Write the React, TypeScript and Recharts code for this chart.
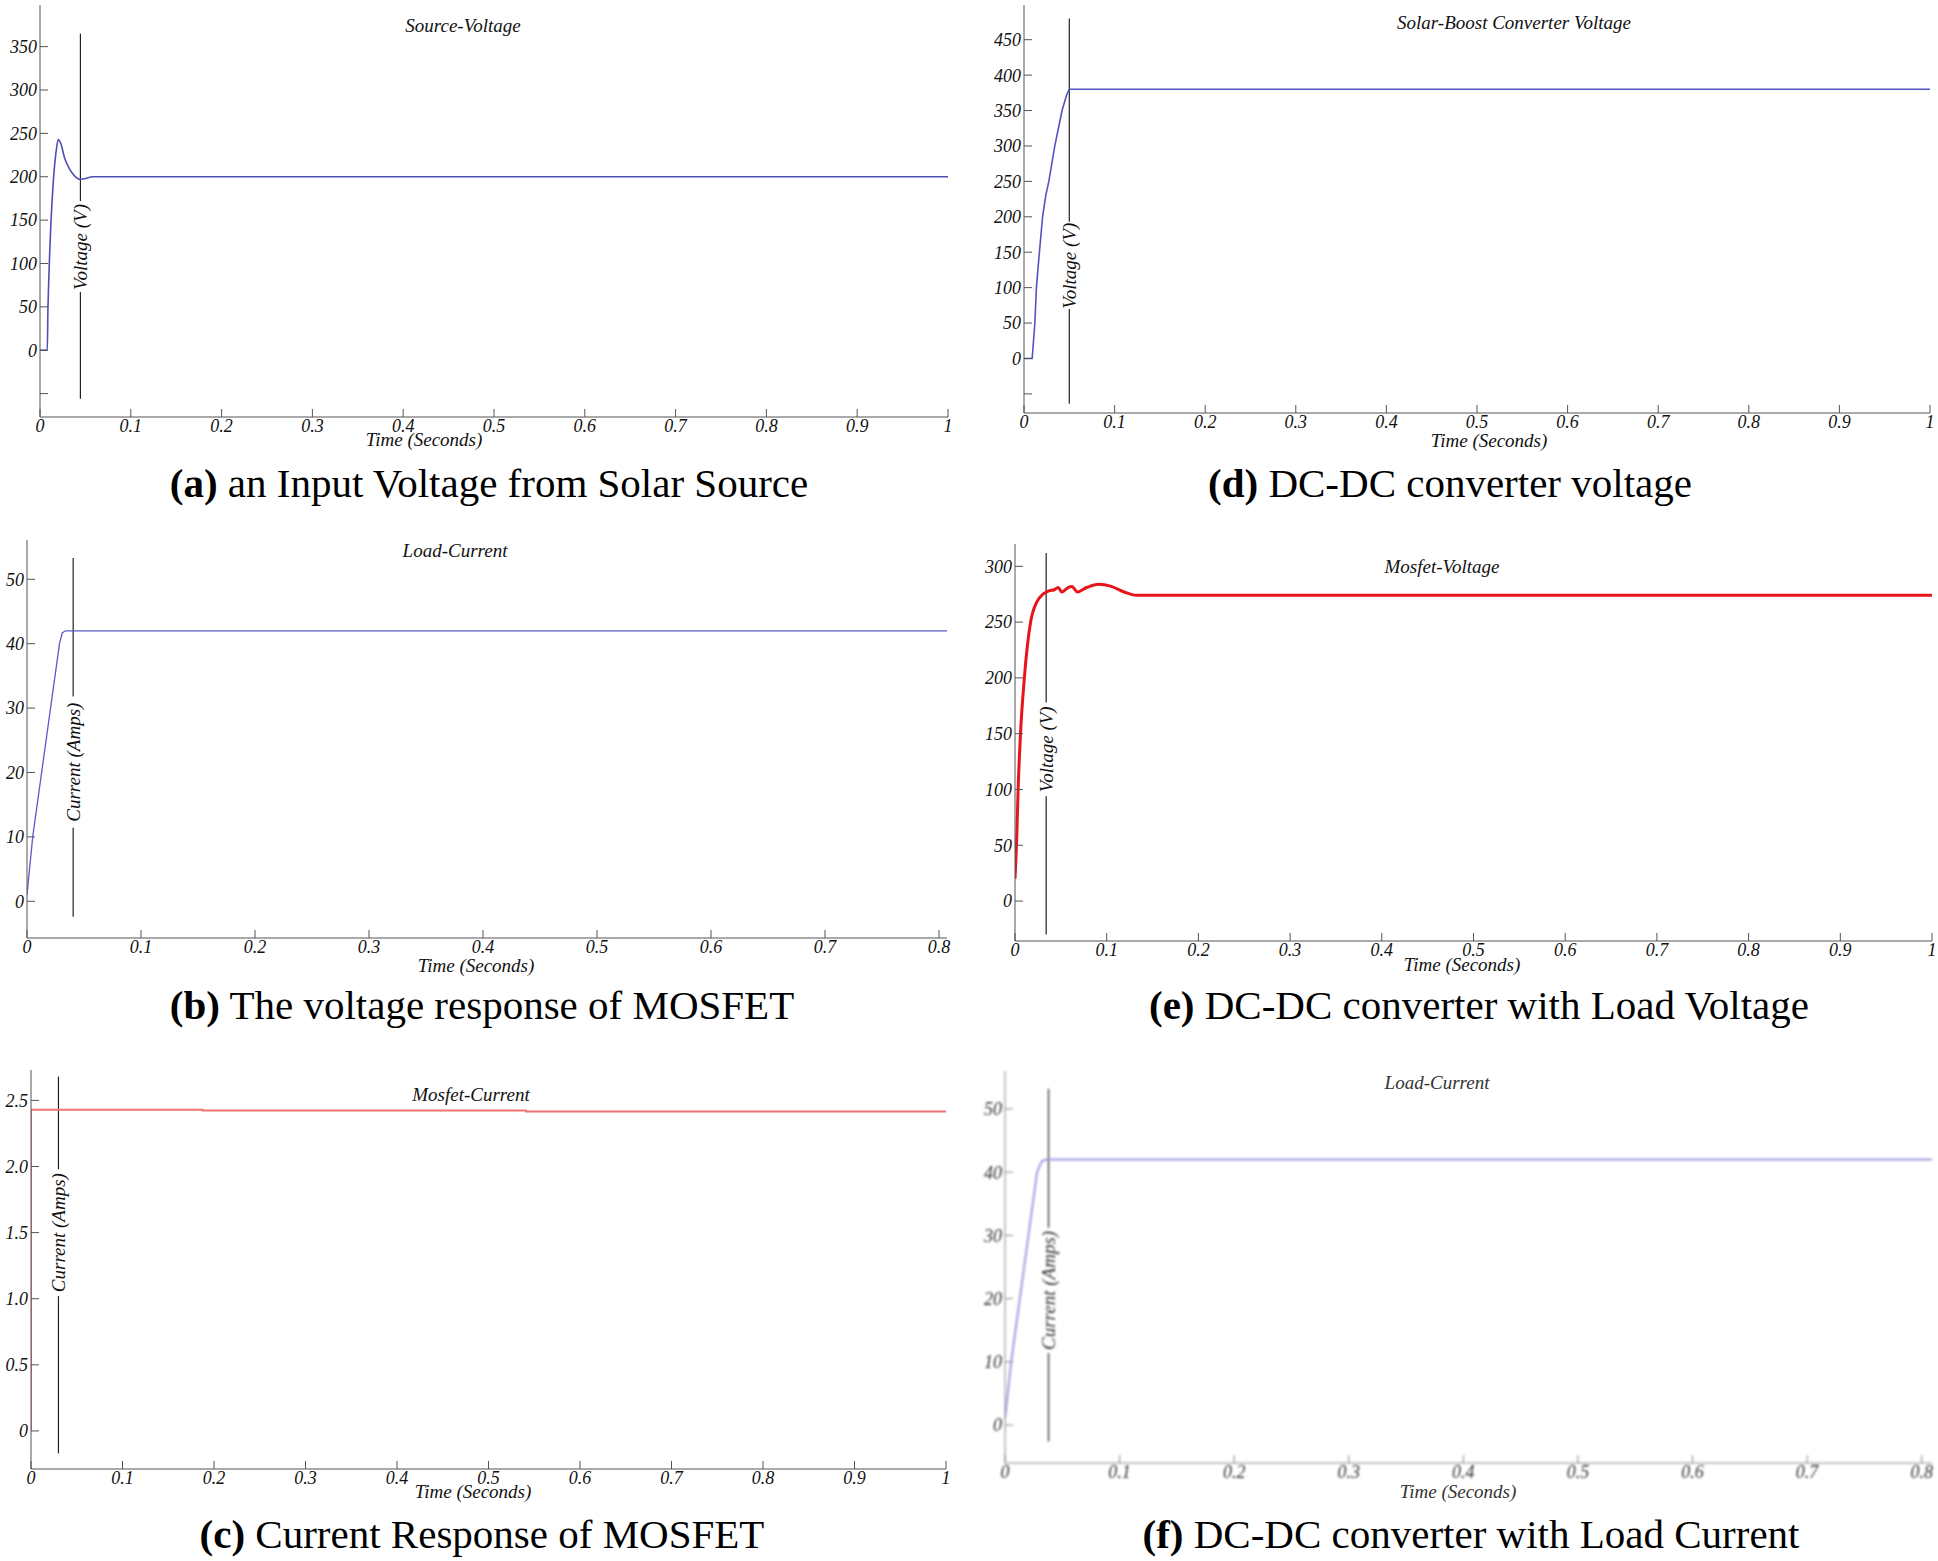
import React from 'react';
import { LineChart, Line, XAxis, YAxis, ReferenceLine } from 'recharts';

// time ticks
const ticksFull = [0, 0.1, 0.2, 0.3, 0.4, 0.5, 0.6, 0.7, 0.8, 0.9, 1];
const ticksShort = [0, 0.1, 0.2, 0.3, 0.4, 0.5, 0.6, 0.7, 0.8];

// (a) source voltage
const srcTime = [0, 0.008, 0.0088, 0.0185, 0.0202, 0.023, 0.027, 0.032, 0.038, 0.044, 0.05, 0.058, 1];
const srcVolts = [0, 0, 50, 235, 243, 238, 222, 210, 201, 197, 198, 200, 200];

// (d) boost converter voltage
const boostTime = [0, 0.009, 0.012, 0.0137, 0.017, 0.0205, 0.024, 0.0274, 0.034, 0.042, 0.047, 0.05, 1];
const boostVolts = [0, 0, 50, 100, 150, 200, 230, 250, 300, 350, 372, 380, 380];

// (b) load current
const loadTime = [0, 0.005, 0.0285, 0.031, 0.034, 0.807];
const loadAmps = [1, 10, 40, 41.7, 42, 42];

// (e) mosfet voltage
const mosVTime = [0, 0.002, 0.0034, 0.006, 0.0102, 0.017, 0.0237, 0.0305, 0.037, 0.043, 0.047, 0.051, 0.058, 0.062, 0.068, 0.078, 0.0915, 0.105, 0.119, 0.132, 1];
const mosVolts = [20, 60, 100, 150, 200, 250, 268, 275, 278, 279, 281, 277, 281, 282, 277, 281, 284, 282, 277, 274, 274];

// (c) mosfet current
const mosITime = [0, 0, 0.1875, 0.1875, 0.541, 0.541, 1];
const mosAmps = [0, 2.43, 2.43, 2.424, 2.424, 2.416, 2.416];

// (f) load current (second run)
const load2Time = [0, 0.0054, 0.028, 0.032, 0.036, 0.809];
const load2Amps = [1, 10, 40, 41.7, 42, 42];

const rows = (ts: number[], vs: number[]) => ts.map((t, i) => ({ t, v: vs[i] }));

const YW = 60;
const XH = 40;
const RM = 14;
const serif = 'Liberation Serif, Times New Roman, serif';

type Frame = { l: number; t: number; r: number; b: number };
type Marker = { x: number; top: number; hi: number; lo: number; bottom: number; mid: number };

interface PanelProps {
  frame: Frame;
  xDomain: [number, number];
  xTicks: number[];
  yDomain: [number, number];
  yTicks: number[];
  yFmt: (v: number) => string;
  data: { t: number; v: number }[];
  color: string;
  strokeWidth: number;
  curve: 'linear' | 'monotoneX';
  title: string;
  titlePos: [number, number];
  xLabelPos: [number, number];
  yLabel: string;
  marker: Marker;
  letter: string;
  caption: string;
  captionPos: [number, number];
  blur?: boolean;
}

const textAt = (pos: [number, number], style: React.CSSProperties, children: React.ReactNode) => (
  <div
    style={{
      position: 'absolute',
      left: pos[0],
      top: pos[1],
      transform: 'translate(-50%, -50%)',
      whiteSpace: 'nowrap',
      lineHeight: 1,
      ...style,
    }}
  >
    {children}
  </div>
);

const Panel: React.FC<PanelProps> = (p) => {
  const w = p.frame.r - p.frame.l;
  const h = p.frame.b - p.frame.t;
  const m = p.marker;
  const frameColor = p.blur ? '#8a8a8a' : '#555';
  const ink = p.blur ? '#333' : '#111';
  const tickFont = { fontFamily: serif, fontStyle: 'italic', fontSize: 18, fill: ink };
  const italic = { fontFamily: serif, fontStyle: 'italic', fontSize: 19, color: ink };
  return (
    <>
      <div
        style={{
          position: 'absolute',
          left: p.frame.l - YW,
          top: p.frame.t,
          filter: p.blur ? 'blur(0.8px)' : undefined,
        }}
      >
        <LineChart width={w + YW + RM} height={h + XH} data={p.data} margin={{ top: 0, right: RM, bottom: 0, left: 0 }}>
          <XAxis
            dataKey="t"
            type="number"
            domain={p.xDomain}
            ticks={p.xTicks}
            allowDataOverflow
            interval={0}
            tickSize={-8}
            tickMargin={10}
            height={XH}
            stroke={frameColor}
            tick={tickFont}
            tickFormatter={(v: number) => String(v)}
          />
          <XAxis
            xAxisId="top"
            orientation="top"
            type="number"
            domain={p.xDomain}
            ticks={p.xTicks}
            allowDataOverflow
            interval={0}
            tickSize={-8}
            height={0}
            stroke={frameColor}
            tick={false}
          />
          <YAxis
            type="number"
            domain={p.yDomain}
            ticks={p.yTicks}
            allowDataOverflow
            interval={0}
            tickSize={-8}
            tickMargin={11}
            width={YW}
            stroke={frameColor}
            tick={tickFont}
            tickFormatter={p.yFmt}
          />
          <YAxis
            yAxisId="right"
            orientation="right"
            type="number"
            domain={p.yDomain}
            ticks={p.yTicks}
            allowDataOverflow
            interval={0}
            tickSize={-8}
            width={0}
            stroke={frameColor}
            tick={false}
          />
          <ReferenceLine segment={[{ x: m.x, y: m.top }, { x: m.x, y: m.hi }]} stroke="#222" strokeWidth={1.2} />
          <ReferenceLine segment={[{ x: m.x, y: m.lo }, { x: m.x, y: m.bottom }]} stroke="#222" strokeWidth={1.2} />
          <ReferenceLine
            segment={[{ x: m.x, y: m.mid + 0.001 }, { x: m.x, y: m.mid - 0.001 }]}
            stroke="none"
            label={{
              value: p.yLabel,
              angle: -90,
              position: 'center',
              fontFamily: serif,
              fontStyle: 'italic',
              fontSize: 19,
              fill: ink,
            }}
          />
          <Line
            type={p.curve}
            dataKey="v"
            stroke={p.color}
            strokeWidth={p.strokeWidth}
            dot={false}
            isAnimationActive={false}
          />
        </LineChart>
      </div>
      {textAt(p.titlePos, italic, p.title)}
      {textAt(p.xLabelPos, italic, 'Time (Seconds)')}
      {textAt(
        p.captionPos,
        { fontFamily: serif, fontSize: 41, color: '#000' },
        <>
          <b>({p.letter})</b> {p.caption}
        </>
      )}
    </>
  );
};

const hideNeg = (v: number) => (v < 0 ? '' : String(v));
const plain = (v: number) => String(v);
const oneDec = (v: number) => (v === 0 ? '0' : v.toFixed(1));

export default function App() {
  return (
    <div
      style={{
        position: 'absolute',
        left: 0,
        top: 0,
        width: 1938,
        height: 1561,
        background: '#fff',
        overflow: 'hidden',
      }}
    >
      <Panel
        frame={{ l: 40, t: 5, r: 948, b: 417 }}
        xDomain={[0, 1]}
        xTicks={ticksFull}
        yDomain={[-77, 398]}
        yTicks={[-50, 0, 50, 100, 150, 200, 250, 300, 350]}
        yFmt={hideNeg}
        data={rows(srcTime, srcVolts)}
        color="#4f4fb4"
        strokeWidth={1.6}
        curve="monotoneX"
        title="Source-Voltage"
        titlePos={[463, 25]}
        xLabelPos={[424, 439]}
        yLabel="Voltage (V)"
        marker={{ x: 0.0445, top: 365, hi: 172, lo: 67, bottom: -56, mid: 119 }}
        letter="a"
        caption="an Input Voltage from Solar Source"
        captionPos={[489, 483]}
      />
      <Panel
        frame={{ l: 1024, t: 5, r: 1930, b: 413 }}
        xDomain={[0, 1]}
        xTicks={ticksFull}
        yDomain={[-77, 499]}
        yTicks={[-50, 0, 50, 100, 150, 200, 250, 300, 350, 400, 450]}
        yFmt={hideNeg}
        data={rows(boostTime, boostVolts)}
        color="#5353c4"
        strokeWidth={1.6}
        curve="linear"
        title="Solar-Boost Converter Voltage"
        titlePos={[1514, 22]}
        xLabelPos={[1489, 440]}
        yLabel="Voltage (V)"
        marker={{ x: 0.05, top: 480, hi: 193, lo: 70, bottom: -64, mid: 131 }}
        letter="d"
        caption="DC-DC converter voltage"
        captionPos={[1450, 483]}
      />
      <Panel
        frame={{ l: 27, t: 540, r: 947, b: 938 }}
        xDomain={[0, 0.807]}
        xTicks={ticksShort}
        yDomain={[-5.7, 56.1]}
        yTicks={[0, 10, 20, 30, 40, 50]}
        yFmt={plain}
        data={rows(loadTime, loadAmps)}
        color="#5a5acc"
        strokeWidth={1.3}
        curve="linear"
        title="Load-Current"
        titlePos={[455, 550]}
        xLabelPos={[476, 965]}
        yLabel="Current (Amps)"
        marker={{ x: 0.0405, top: 53.3, hi: 31.8, lo: 11.4, bottom: -2.4, mid: 21.6 }}
        letter="b"
        caption="The voltage response of MOSFET"
        captionPos={[482, 1005]}
      />
      <Panel
        frame={{ l: 1015, t: 544, r: 1932, b: 941 }}
        xDomain={[0, 1]}
        xTicks={ticksFull}
        yDomain={[-35.8, 320]}
        yTicks={[0, 50, 100, 150, 200, 250, 300]}
        yFmt={plain}
        data={rows(mosVTime, mosVolts)}
        color="#e8141c"
        strokeWidth={3}
        curve="monotoneX"
        title="Mosfet-Voltage"
        titlePos={[1442, 566]}
        xLabelPos={[1462, 964]}
        yLabel="Voltage (V)"
        marker={{ x: 0.034, top: 312, hi: 178, lo: 94, bottom: -30, mid: 136 }}
        letter="e"
        caption="DC-DC converter with Load Voltage"
        captionPos={[1479, 1005]}
      />
      <Panel
        frame={{ l: 31, t: 1070, r: 946, b: 1469 }}
        xDomain={[0, 1]}
        xTicks={ticksFull}
        yDomain={[-0.288, 2.73]}
        yTicks={[0, 0.5, 1, 1.5, 2, 2.5]}
        yFmt={oneDec}
        data={rows(mosITime, mosAmps)}
        color="#f07272"
        strokeWidth={2}
        curve="linear"
        title="Mosfet-Current"
        titlePos={[471, 1094]}
        xLabelPos={[473, 1491]}
        yLabel="Current (Amps)"
        marker={{ x: 0.03, top: 2.68, hi: 1.98, lo: 1.02, bottom: -0.17, mid: 1.5 }}
        letter="c"
        caption="Current Response of MOSFET"
        captionPos={[482, 1534]}
      />
      <Panel
        frame={{ l: 1005, t: 1071, r: 1932, b: 1463 }}
        xDomain={[0, 0.809]}
        xTicks={ticksShort}
        yDomain={[-6, 56]}
        yTicks={[0, 10, 20, 30, 40, 50]}
        yFmt={plain}
        data={rows(load2Time, load2Amps)}
        color="#9c9ce4"
        strokeWidth={2}
        curve="linear"
        title="Load-Current"
        titlePos={[1437, 1082]}
        xLabelPos={[1458, 1491]}
        yLabel="Current (Amps)"
        marker={{ x: 0.038, top: 53.2, hi: 31.2, lo: 11.4, bottom: -2.6, mid: 21.3 }}
        letter="f"
        caption="DC-DC converter with Load Current"
        captionPos={[1471, 1534]}
        blur
      />
    </div>
  );
}
